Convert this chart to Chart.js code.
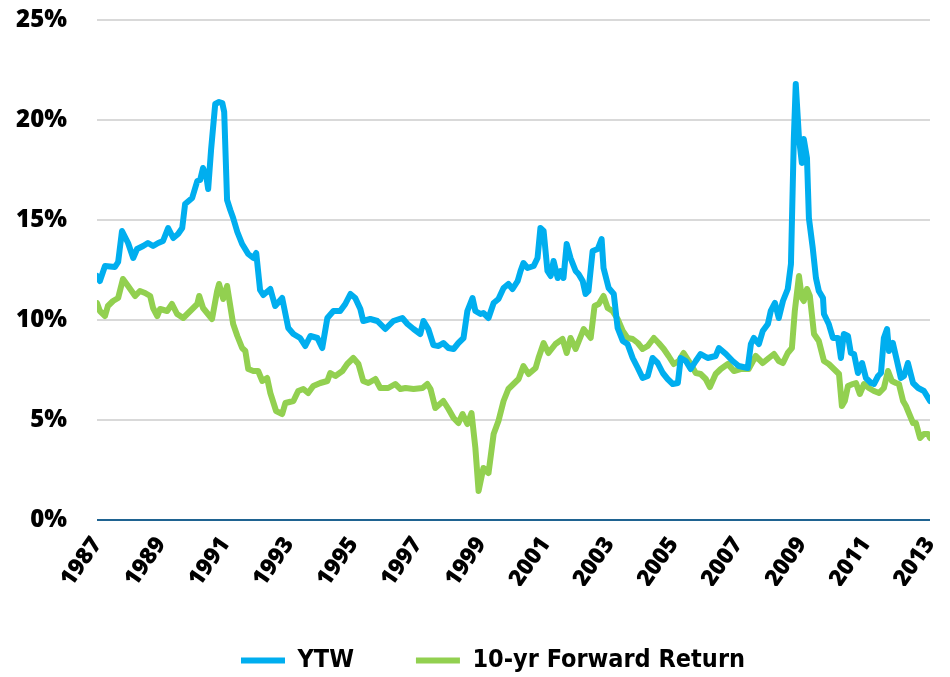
<!DOCTYPE html>
<html>
<head>
<meta charset="utf-8">
<title>YTW vs 10-yr Forward Return</title>
<script src="https://cdn.jsdelivr.net/npm/chart.js@4.4.1/dist/chart.umd.min.js"></script>
<style>
  html, body { margin: 0; padding: 0; background: #fff; }
  #wrap { width: 950px; height: 677px; }
</style>
</head>
<body>
<div id="wrap"><canvas id="chart"></canvas></div>
<script>
// yield-to-worst (year, %)
const ytwYears = [
  1987.00, 1987.09, 1987.25, 1987.56, 1987.66, 1987.78, 1987.97, 1988.13, 1988.25, 1988.44,
  1988.59, 1988.75, 1988.91, 1989.06, 1989.22, 1989.38, 1989.53, 1989.66, 1989.75, 1989.97,
  1990.13, 1990.22, 1990.31, 1990.41, 1990.47, 1990.56, 1990.69, 1990.81, 1990.91, 1990.97,
  1991.06, 1991.16, 1991.25, 1991.38, 1991.53, 1991.72, 1991.88, 1991.97, 1992.09, 1992.19,
  1992.41, 1992.56, 1992.78, 1992.97, 1993.13, 1993.34, 1993.50, 1993.66, 1993.88, 1994.03,
  1994.19, 1994.38, 1994.59, 1994.75, 1994.91, 1995.06, 1995.22, 1995.31, 1995.53, 1995.75,
  1996.00, 1996.25, 1996.53, 1996.69, 1996.88, 1997.09, 1997.19, 1997.34, 1997.50, 1997.66,
  1997.81, 1997.97, 1998.13, 1998.28, 1998.44, 1998.56, 1998.72, 1998.81, 1998.97, 1999.06,
  1999.22, 1999.38, 1999.53, 1999.69, 1999.84, 1999.97, 2000.13, 2000.22, 2000.31, 2000.44,
  2000.63, 2000.75, 2000.84, 2000.94, 2001.06, 2001.16, 2001.25, 2001.38, 2001.47, 2001.56,
  2001.66, 2001.78, 2001.94, 2002.03, 2002.16, 2002.25, 2002.34, 2002.47, 2002.63, 2002.75,
  2002.81, 2002.97, 2003.13, 2003.25, 2003.41, 2003.56, 2003.72, 2003.88, 2004.03, 2004.19,
  2004.34, 2004.50, 2004.66, 2004.81, 2004.97, 2005.13, 2005.22, 2005.38, 2005.53, 2005.69,
  2005.84, 2006.06, 2006.31, 2006.41, 2006.63, 2006.84, 2007.03, 2007.31, 2007.41, 2007.50,
  2007.66, 2007.78, 2007.94, 2008.03, 2008.16, 2008.28, 2008.41, 2008.56, 2008.66, 2008.75,
  2008.81, 2008.91, 2009.00, 2009.06, 2009.16, 2009.22, 2009.34, 2009.44, 2009.53, 2009.66,
  2009.69, 2009.84, 2009.97, 2010.13, 2010.22, 2010.31, 2010.44, 2010.53, 2010.63, 2010.75,
  2010.88, 2011.00, 2011.16, 2011.25, 2011.38, 2011.47, 2011.56, 2011.66, 2011.72, 2011.84,
  2011.97, 2012.09, 2012.19, 2012.31, 2012.47, 2012.63, 2012.81, 2013.00
];
const ytwValues = [
  12.2, 11.95, 12.7, 12.65, 12.9, 14.45, 13.85, 13.1, 13.55, 13.7,
  13.85, 13.7, 13.85, 13.95, 14.6, 14.1, 14.3, 14.6, 15.8, 16.1,
  16.95, 17.0, 17.6, 17.2, 16.55, 18.5, 20.8, 20.9, 20.85, 20.4,
  16.0, 15.5, 15.1, 14.4, 13.8, 13.3, 13.1, 13.35, 11.5, 11.25,
  11.55, 10.7, 11.1, 9.6, 9.3, 9.1, 8.7, 9.2, 9.1, 8.6,
  10.1, 10.45, 10.45, 10.8, 11.3, 11.1, 10.55, 9.95, 10.05, 9.95,
  9.55, 9.95, 10.1, 9.8, 9.55, 9.3, 9.95, 9.55, 8.75, 8.7,
  8.85, 8.6, 8.55, 8.85, 9.1, 10.45, 11.1, 10.45, 10.3, 10.35,
  10.1, 10.85, 11.05, 11.6, 11.8, 11.55, 11.95, 12.45, 12.85, 12.6,
  12.7, 13.1, 14.6, 14.45, 12.45, 12.2, 12.95, 12.1, 12.45, 12.1,
  13.8, 13.1, 12.45, 12.3, 11.95, 11.3, 11.45, 13.45, 13.55, 14.05,
  12.6, 11.6, 11.3, 9.6, 8.95, 8.8, 8.1, 7.6, 7.1, 7.2,
  8.1, 7.85, 7.35, 7.05, 6.8, 6.85, 8.1, 7.95, 7.55, 7.95,
  8.3, 8.1, 8.2, 8.6, 8.3, 7.95, 7.7, 7.6, 8.8, 9.1,
  8.8, 9.45, 9.8, 10.45, 10.85, 10.1, 10.95, 11.55, 12.8, 19.1,
  21.8, 19.1, 17.85, 19.05, 18.1, 15.1, 13.6, 12.1, 11.45, 11.1,
  10.3, 9.8, 9.1, 9.1, 8.1, 9.3, 9.2, 8.35, 8.3, 7.35,
  7.85, 7.1, 6.85, 6.8, 7.2, 7.35, 9.1, 9.55, 8.45, 8.85,
  7.95, 7.1, 7.2, 7.85, 6.85, 6.6, 6.45, 5.95
];

// realised 10-yr forward return (year, %)
const fwdYears = [
  1987.00, 1987.09, 1987.25, 1987.34, 1987.50, 1987.66, 1987.81, 1987.97, 1988.19, 1988.34,
  1988.50, 1988.66, 1988.75, 1988.88, 1988.97, 1989.19, 1989.34, 1989.50, 1989.69, 1989.91,
  1990.13, 1990.19, 1990.31, 1990.59, 1990.75, 1990.81, 1990.94, 1991.06, 1991.25, 1991.38,
  1991.53, 1991.63, 1991.72, 1991.88, 1992.03, 1992.16, 1992.31, 1992.41, 1992.59, 1992.78,
  1992.88, 1993.13, 1993.28, 1993.44, 1993.59, 1993.75, 1993.97, 1994.19, 1994.28, 1994.44,
  1994.66, 1994.81, 1995.00, 1995.16, 1995.31, 1995.47, 1995.69, 1995.84, 1996.09, 1996.31,
  1996.47, 1996.63, 1996.88, 1997.16, 1997.31, 1997.41, 1997.56, 1997.81, 1997.97, 1998.13,
  1998.28, 1998.41, 1998.56, 1998.69, 1998.81, 1998.91, 1999.06, 1999.22, 1999.38, 1999.53,
  1999.69, 1999.84, 2000.00, 2000.16, 2000.31, 2000.47, 2000.69, 2000.78, 2000.94, 2001.09,
  2001.31, 2001.53, 2001.66, 2001.78, 2001.94, 2002.19, 2002.41, 2002.53, 2002.66, 2002.81,
  2002.94, 2003.09, 2003.25, 2003.41, 2003.56, 2003.72, 2003.88, 2004.03, 2004.19, 2004.38,
  2004.53, 2004.69, 2004.84, 2005.00, 2005.16, 2005.31, 2005.47, 2005.69, 2005.84, 2006.00,
  2006.13, 2006.31, 2006.47, 2006.69, 2006.88, 2007.09, 2007.34, 2007.56, 2007.78, 2007.97,
  2008.13, 2008.28, 2008.41, 2008.56, 2008.69, 2008.78, 2008.91, 2009.00, 2009.06, 2009.16,
  2009.25, 2009.38, 2009.53, 2009.69, 2009.84, 2010.00, 2010.16, 2010.25, 2010.34, 2010.44,
  2010.59, 2010.69, 2010.81, 2010.94, 2011.09, 2011.25, 2011.41, 2011.56, 2011.69, 2011.81,
  2011.94, 2012.03, 2012.16, 2012.25, 2012.34, 2012.47, 2012.56, 2012.69, 2012.81, 2012.94,
  2013.00
];
const fwdValues = [
  10.85, 10.45, 10.2, 10.7, 10.95, 11.1, 12.05, 11.7, 11.2, 11.45,
  11.35, 11.2, 10.6, 10.2, 10.55, 10.45, 10.8, 10.3, 10.1, 10.45,
  10.8, 11.2, 10.6, 10.05, 11.45, 11.8, 11.05, 11.7, 9.8, 9.2,
  8.6, 8.45, 7.55, 7.45, 7.45, 6.95, 7.1, 6.35, 5.45, 5.3,
  5.85, 5.95, 6.45, 6.55, 6.35, 6.7, 6.85, 6.95, 7.35, 7.2,
  7.45, 7.8, 8.1, 7.8, 6.95, 6.85, 7.05, 6.6, 6.6, 6.8,
  6.55, 6.6, 6.55, 6.6, 6.8, 6.55, 5.6, 5.95, 5.55, 5.1,
  4.85, 5.3, 4.8, 5.35, 3.6, 1.45, 2.6, 2.35, 4.3, 4.95,
  5.95, 6.55, 6.8, 7.05, 7.7, 7.3, 7.6, 8.1, 8.85, 8.35,
  8.8, 9.05, 8.35, 9.1, 8.55, 9.55, 9.1, 10.7, 10.8, 11.2,
  10.6, 10.45, 10.05, 9.45, 9.1, 9.05, 8.85, 8.55, 8.7, 9.1,
  8.85, 8.55, 8.2, 7.8, 7.95, 8.35, 7.95, 7.35, 7.3, 7.05,
  6.65, 7.3, 7.55, 7.8, 7.45, 7.55, 7.55, 8.2, 7.85, 8.1,
  8.3, 7.95, 7.85, 8.35, 8.6, 10.45, 12.2, 11.1, 10.95, 11.55,
  11.2, 9.3, 8.95, 7.95, 7.8, 7.55, 7.3, 5.7, 5.95, 6.7,
  6.8, 6.85, 6.3, 6.8, 6.6, 6.45, 6.35, 6.6, 7.45, 6.95,
  6.85, 6.8, 5.95, 5.7, 5.35, 4.85, 4.85, 4.1, 4.3, 4.3,
  4.1
];

const tickYears = [1987, 1989, 1991, 1993, 1995, 1997, 1999, 2001, 2003, 2005, 2007, 2009, 2011, 2013];
const seriesNames = ["YTW", "10-yr Forward Return"];

const BLUE = "#00aeef";
const GREEN = "#92d050";
const GRID = "#d9d9d9";
const ZERO_LINE = "#1f6391";
const TICK_FONT = "'Open Sans', Lato, sans-serif";
const LEGEND_FONT = "'DejaVu Sans Condensed', 'Open Sans', sans-serif";

function toPoints(xs, ys) {
  return xs.map((x, i) => ({ x, y: ys[i] }));
}

function lineDataset(label, data, color) {
  return {
    label,
    data,
    borderColor: color,
    backgroundColor: color,
    borderWidth: 6,
    borderCapStyle: "round",
    borderJoinStyle: "round",
    pointRadius: 0,
    pointHoverRadius: 0,
    tension: 0,
    fill: false,
    pointStyle: "line",
  };
}

// the legend sits a little right of the canvas centre in the original
const legendNudge = {
  id: "legendNudge",
  afterLayout(chart) {
    const lg = chart.legend;
    if (!lg) return;
    lg.left += 28;
    lg.right += 28;
  },
};

const ctx = document.getElementById("chart").getContext("2d");
new Chart(ctx, {
  type: "line",
  data: {
    datasets: [
      lineDataset(seriesNames[0], toPoints(ytwYears, ytwValues), BLUE),
      lineDataset(seriesNames[1], toPoints(fwdYears, fwdValues), GREEN),
    ],
  },
  plugins: [legendNudge],
  options: {
    responsive: true,
    maintainAspectRatio: false,
    animation: false,
    devicePixelRatio: 1,
    layout: { padding: { top: 20, right: 20, bottom: -6, left: 0 } },
    plugins: {
      tooltip: { enabled: false },
      legend: {
        position: "bottom",
        align: "center",
        labels: {
          color: "#000",
          font: { family: LEGEND_FONT, size: 25, weight: "bold" },
          usePointStyle: true,
          pointStyleWidth: 44,
          padding: 62,
        },
      },
    },
    scales: {
      x: {
        type: "linear",
        min: 1987,
        max: 2013,
        afterBuildTicks: (scale) => {
          scale.ticks = tickYears.map((v) => ({ value: v }));
        },
        afterFit: (scale) => {
          scale.height = 66;
          scale.paddingLeft = 0;
          scale.paddingRight = 0;
        },
        ticks: {
          autoSkip: false,
          minRotation: 55,
          maxRotation: 55,
          padding: 12,
          color: "#000",
          font: { family: TICK_FONT, size: 23, weight: "800" },
          callback: (v) => String(v),
        },
        grid: { display: false, drawTicks: false },
        border: { display: false },
      },
      y: {
        min: 0,
        max: 25,
        afterFit: (scale) => {
          scale.width = 97;
          scale.paddingTop = 0;
          scale.paddingBottom = 0;
        },
        ticks: {
          stepSize: 5,
          padding: 30,
          color: "#000",
          font: { family: TICK_FONT, size: 24, weight: "800" },
          callback: (v) => v + "%",
        },
        grid: {
          drawTicks: false,
          lineWidth: 2,
          color: (c) => (c.tick && c.tick.value === 0 ? ZERO_LINE : GRID),
        },
        border: { display: false },
      },
    },
  },
});
</script>
</body>
</html>
